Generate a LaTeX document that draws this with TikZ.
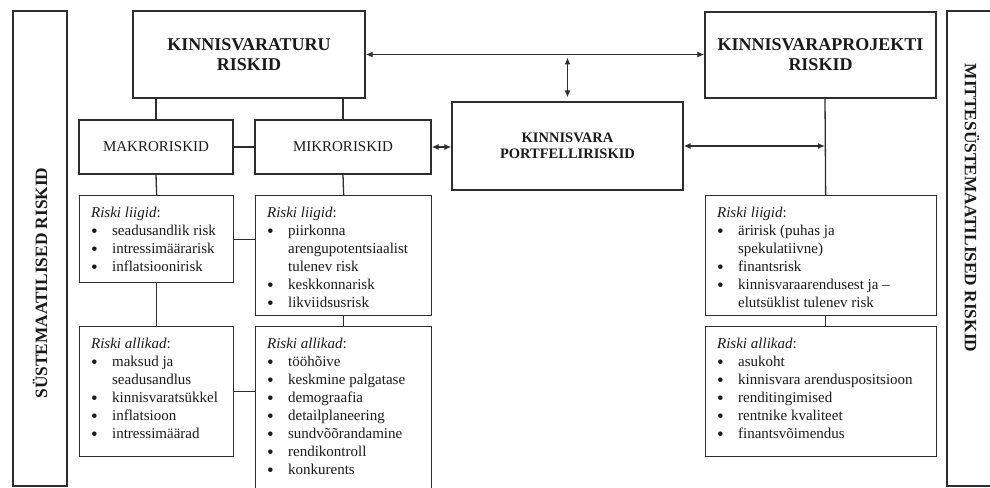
\documentclass[tikz,border=0pt]{standalone}
\usepackage{fontspec}
\setmainfont{Liberation Serif}
\usetikzlibrary{arrows.meta}
\definecolor{ink}{HTML}{1A1A1A}
\definecolor{ln}{HTML}{2E2E2E}
\newcommand\bul{\makebox[21pt][l]{\raisebox{-2pt}{\fontsize{19}{18}\selectfont\textbullet}}}
\newcommand\cont{\hspace*{21pt}}
\newcommand\lbox[3]{\parbox[c][#2][t]{#1}{\fontsize{15}{18}\selectfont\raggedright\leftskip=11.5pt\relax\rule{0pt}{21.5pt}#3}}
\tikzset{
  x=1pt, y=-1pt,
  conn/.style={draw=ln, line width=1.3pt},
  twoway/.style={conn, {Latex[length=7pt,width=6pt]}-{Latex[length=7pt,width=6pt]}},
  tbox/.style={draw=ln, line width=1.3pt, align=center, text=ink, inner sep=0pt,
    font=\fontsize{18}{20}\selectfont\bfseries},
  mbox/.style={draw=ln, line width=1.3pt, align=center, text=ink, inner sep=0pt,
    font=\fontsize{15}{18}\selectfont},
  lb/.style={draw=ln, line width=1.3pt, inner sep=0pt, anchor=north west, text=ink},
  side/.style={font=\fontsize{17.3}{18}\selectfont\bfseries, text=ink, inner sep=0pt}
}
\begin{document}
\begin{tikzpicture}
\useasboundingbox (0,0) rectangle (990,487);
% side panels
\draw[conn] (13,11) rectangle (67,486);
\draw[conn] (992,11) -- (947,11) -- (947,486) -- (992,486);
\node[side, rotate=90] (sl) at (40,283) {SÜSTEMAATILISED RISKID};
\node[side, rotate=-90] (sr) at (972,208) {MITTESÜSTEMAATILISED RISKID};

% title boxes
\node[tbox, minimum width=232pt, minimum height=87pt] (turu) at (249,54.5) {KINNISVARATURU\\RISKID};
\node[tbox, minimum width=231pt, minimum height=86pt] (proj) at (820.5,55) {KINNISVARAPROJEKTI\\RISKID};
\node[tbox, minimum width=231pt, minimum height=88pt, font=\fontsize{14.5}{16.5}\selectfont\bfseries] (port) at (567.5,146) {KINNISVARA\\PORTFELLIRISKID};
\node[mbox, minimum width=154pt, minimum height=54pt] (makro) at (156,147) {MAKRORISKID};
\node[mbox, minimum width=176pt, minimum height=54pt] (mikro) at (343,147) {MIKRORISKID};

% list boxes
\node[lb] (L1) at (79,195) {\lbox{154pt}{87pt}{\textit{Riski liigid}:\par
 \bul seadusandlik risk\par \bul intressimäärarisk\par \bul inflatsioonirisk}};
\node[lb] (L2) at (79,326) {\lbox{154pt}{130pt}{\textit{Riski allikad}:\par
 \bul maksud ja\par \cont seadusandlus\par \bul kinnisvaratsükkel\par \bul inflatsioon\par \bul intressimäärad}};
\node[lb] (M1) at (255,195) {\lbox{176pt}{120pt}{\textit{Riski liigid}:\par
 \bul piirkonna\par \cont arengupotentsiaalist\par \cont tulenev risk\par \bul keskkonnarisk\par \bul likviidsusrisk}};
\node[lb] (M2) at (255,326) {\lbox{176pt}{170pt}{\textit{Riski allikad}:\par
 \bul tööhõive\par \bul keskmine palgatase\par \bul demograafia\par \bul detailplaneering\par \bul sundvõõrandamine\par \bul rendikontroll\par \bul konkurents}};
\node[lb] (R1) at (705,195) {\lbox{231pt}{120pt}{\textit{Riski liigid}:\par
 \bul äririsk (puhas ja\par \cont spekulatiivne)\par \bul finantsrisk\par \bul kinnisvaraarendusest ja –\par \cont elutsüklist tulenev risk}};
\node[lb] (R2) at (705,326) {\lbox{231pt}{130pt}{\textit{Riski allikad}:\par
 \bul asukoht\par \bul kinnisvara arenduspositsioon\par \bul renditingimised\par \bul rentnike kvaliteet\par \bul finantsvõimendus}};

% connectors
\draw[conn] (makro.north |- turu.south) -- (makro.north);
\draw[conn] (mikro.north |- turu.south) -- (mikro.north);
\draw[conn] (makro.east) -- (mikro.west);
\draw[twoway] (mikro.east) -- (mikro.east -| port.west);
\draw[twoway] (turu.east) -- (turu.east -| proj.west);
\draw[twoway, shorten <=3pt, shorten >=4pt] (port.north |- turu.east) -- (port.north);
\coordinate (pj) at ([xshift=4.5pt]proj.south);
\coordinate (r1t) at ([xshift=4.5pt]R1.north);
\draw[conn] (pj) -- (r1t);
\draw[twoway] (port.east) -- (port.east -| pj);
\draw[conn] (makro.south) -- (L1.north);
\draw[conn] (mikro.south) -- (M1.north);
\draw[conn] (L1.east) -- (L1.east -| M1.west);
\draw[conn] (L1.south) -- (L2.north);
\draw[conn] (M1.south) -- (M2.north);
\draw[conn] (L2.east) -- (L2.east -| M2.west);
\draw[conn] (r1t |- R1.south) -- (r1t |- R2.north);
\end{tikzpicture}
\end{document}
